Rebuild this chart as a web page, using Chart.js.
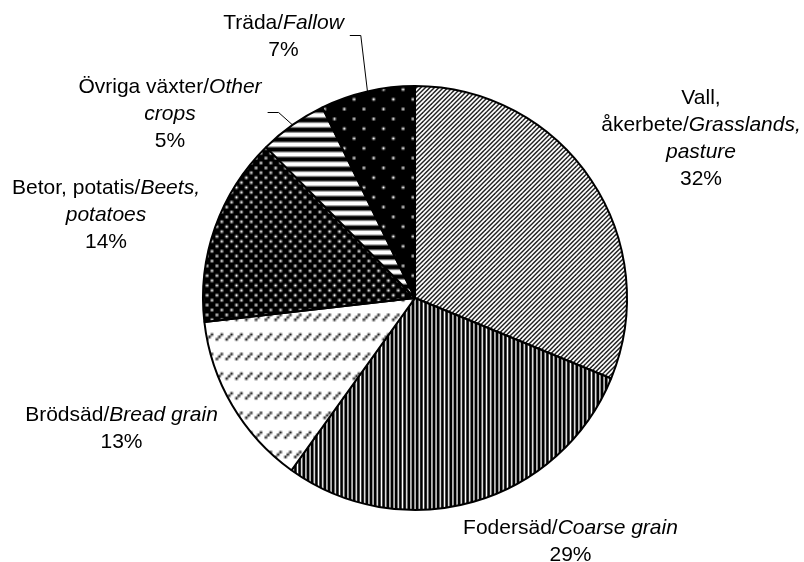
<!DOCTYPE html>
<html><head><meta charset="utf-8">
<script src="https://cdn.jsdelivr.net/npm/chart.js@4.4.1/dist/chart.umd.min.js"></script>
<style>html,body{margin:0;padding:0;background:#fff;}#wrap{width:804px;height:562px;}</style>
</head><body><div id="wrap"><canvas id="c" width="804" height="562"></canvas></div>
<script>
// ---- data ----
const categoriesSv = ["Vall, åkerbete", "Fodersäd", "Brödsäd", "Betor, potatis", "Övriga växter", "Träda"];
const categoriesEn = ["Grasslands, pasture", "Coarse grain", "Bread grain", "Beets, potatoes", "Other crops", "Fallow"];
const shares = [31.2, 28.7, 13.3, 14.4, 5.2, 7.2];
const percentLabels = ["32%", "29%", "13%", "14%", "5%", "7%"];

// ---- layout (label block centre relative to pie centre, wrap width, leader) ----
const labelLayout = [
  {dx: 286, dy: -161.5, wrap: 210, leader: false},
  {dx: 155.5, dy: 242, wrap: 240, leader: false},
  {dx: -293.5, dy: 128.5, wrap: 210, leader: false},
  {dx: -309, dy: -85, wrap: 205, leader: false},
  {dx: -245, dy: -186, wrap: 195, leader: true},
  {dx: -131.5, dy: -263.5, wrap: 200, leader: true}
];
const FONT_SIZE = 21, LINE_H = 27, FONT_FAM = '"Liberation Sans", Arial, sans-serif';

const canvas = document.getElementById('c');
const ctx = canvas.getContext('2d');

function bitmapPattern(rows, fg, bg, scale) {
  const h = rows.length, w = rows[0].length;
  const c = document.createElement('canvas'); c.width = w; c.height = h;
  const x = c.getContext('2d');
  x.fillStyle = bg; x.fillRect(0, 0, w, h);
  x.fillStyle = fg;
  rows.forEach((r, j) => [...r].forEach((ch, i) => { if (ch === '#') x.fillRect(i, j, 1, 1); }));
  const p = ctx.createPattern(c, 'repeat');
  p.setTransform(new DOMMatrix().scale(scale));
  return p;
}

function diagonalPattern(size, count, color, width) {
  const c = document.createElement('canvas'); c.width = size; c.height = size;
  const x = c.getContext('2d');
  x.fillStyle = '#fff'; x.fillRect(0, 0, size, size);
  x.strokeStyle = color; x.lineWidth = width;
  const step = size / count;
  for (let k = -1; k <= 2 * count + 1; k++) {
    const s = k * step;
    x.beginPath(); x.moveTo(-2, s + 2); x.lineTo(s + 2, -2); x.stroke();
  }
  return ctx.createPattern(c, 'repeat');
}

const patterns = [
  diagonalPattern(9, 2, '#222', 1.5),
  bitmapPattern(["##."], '#000', '#fff', 1.4),
  bitmapPattern(["..#...#.", ".#...#..", "#...#...", "........", "........", "........", "........", "........"], '#111', '#fff', 2.45),
  bitmapPattern(["#...", "....", "..#.", "...."], '#fff', '#000', 2.45),
  bitmapPattern(["#", "#", ".", "."], '#000', '#fff', 2.45),
  bitmapPattern(["#.......", "........", "........", "........", "....#...", "........", "........", "........"], '#fff', '#000', 2.45)
];

function tokens(i) {
  const out = [];
  const sv = categoriesSv[i].split(' ');
  const en = categoriesEn[i].split(' ');
  sv.forEach((w, k) => {
    if (k < sv.length - 1) out.push([{t: w, it: false}]);
  });
  out.push([{t: sv[sv.length - 1] + '/', it: false}, {t: en[0], it: true}]);
  en.slice(1).forEach(w => out.push([{t: w, it: true}]));
  return out;
}
function setFont(c, it) { c.font = (it ? 'italic ' : '') + FONT_SIZE + 'px ' + FONT_FAM; }
function tokWidth(c, tok) { return tok.reduce((s, seg) => { setFont(c, seg.it); return s + c.measureText(seg.t).width; }, 0); }

function buildLines(c, i, wrap) {
  const toks = tokens(i);
  setFont(c, false);
  const sp = c.measureText(' ').width;
  const lines = [];
  let cur = [], curW = 0;
  toks.forEach(tok => {
    const w = tokWidth(c, tok);
    if (cur.length && curW + sp + w > wrap) { lines.push({segs: cur, w: curW}); cur = []; curW = 0; }
    if (cur.length) { cur.push({t: ' ', it: tok[0].it}); curW += sp; }
    tok.forEach(s => cur.push(s));
    curW += w;
  });
  if (cur.length) lines.push({segs: cur, w: curW});
  lines.push({segs: [{t: percentLabels[i], it: false}], w: (setFont(c, false), c.measureText(percentLabels[i]).width)});
  return lines;
}

const labelPlugin = {
  id: 'pieLabels',
  afterDatasetsDraw(chart) {
    const c = chart.ctx;
    const meta = chart.getDatasetMeta(0);
    c.save();
    c.fillStyle = '#000';
    c.textBaseline = 'alphabetic';
    c.textAlign = 'left';
    meta.data.forEach((arc, i) => {
      const L = labelLayout[i];
      const cx = arc.x + L.dx, cy = arc.y + L.dy;
      const lines = buildLines(c, i, L.wrap);
      const n = lines.length;
      const firstY = cy - (n - 1) * LINE_H / 2;
      lines.forEach((ln, k) => {
        let x = cx - ln.w / 2;
        const base = firstY + k * LINE_H + FONT_SIZE * 0.358;
        ln.segs.forEach(s => { setFont(c, s.it); c.fillText(s.t, x, base); x += c.measureText(s.t).width; });
      });
      if (L.leader) {
        const right = cx + lines[0].w / 2;
        const mid = (arc.startAngle + arc.endAngle) / 2;
        const ex = arc.x + Math.cos(mid) * arc.outerRadius;
        const ey = arc.y + Math.sin(mid) * arc.outerRadius;
        c.beginPath();
        c.strokeStyle = '#000';
        c.lineWidth = 1;
        c.moveTo(right + 6, Math.round(cy) + 0.5);
        c.lineTo(right + 17, Math.round(cy) + 0.5);
        c.lineTo(ex, ey);
        c.stroke();
      }
    });
    c.restore();
  }
};

new Chart(ctx, {
  type: 'pie',
  data: {
    labels: categoriesSv.map((s, i) => s + '/' + categoriesEn[i]),
    datasets: [{
      data: shares,
      backgroundColor: patterns,
      borderColor: '#000',
      borderWidth: 2,
      hoverOffset: 0
    }]
  },
  options: {
    responsive: false,
    animation: false,
    radius: 212,
    layout: {padding: {left: 26, top: 34, right: 0, bottom: 0}},
    plugins: {legend: {display: false}, tooltip: {enabled: false}}
  },
  plugins: [labelPlugin]
});
</script>
</body></html>
